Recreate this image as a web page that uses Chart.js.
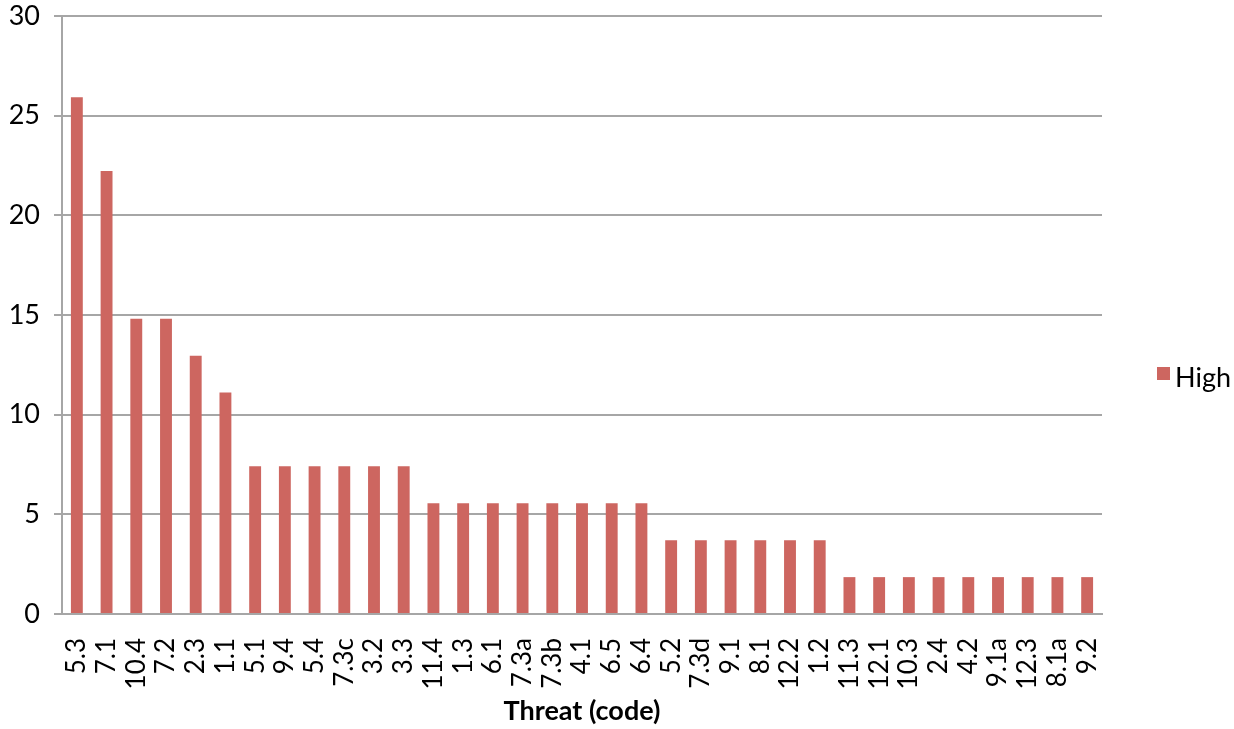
<!DOCTYPE html>
<html>
<head>
<meta charset="utf-8">
<script src="https://cdn.jsdelivr.net/npm/chart.js@4.4.1/dist/chart.umd.min.js"></script>
<style>
  html, body { margin: 0; padding: 0; background: #ffffff; }
  #wrap { width: 1234px; height: 729px; position: relative; }
</style>
</head>
<body>
<div id="wrap"><canvas id="chart" width="1234" height="729"></canvas></div>
<script>
// Threat codes, ranked by share of "High" ratings (%)
const threatCodes = [
  '5.3', '7.1', '10.4', '7.2', '2.3', '1.1', '5.1', '9.4', '5.4', '7.3c',
  '3.2', '3.3', '11.4', '1.3', '6.1', '7.3a', '7.3b', '4.1', '6.5', '6.4',
  '5.2', '7.3d', '9.1', '8.1', '12.2', '1.2', '11.3', '12.1', '10.3', '2.4',
  '4.2', '9.1a', '12.3', '8.1a', '9.2'
];
const highValues = [
  25.93, 22.22, 14.81, 14.81, 12.96, 11.11, 7.41, 7.41, 7.41, 7.41,
  7.41, 7.41, 5.56, 5.56, 5.56, 5.56, 5.56, 5.56, 5.56, 5.56,
  3.70, 3.70, 3.70, 3.70, 3.70, 3.70, 1.85, 1.85, 1.85, 1.85,
  1.85, 1.85, 1.85, 1.85, 1.85
];
const seriesName = 'High';
const axisTitle = 'Threat (code)';
const yTicks = { min: 0, max: 30, step: 5 };

const FONT = 'Lato, "Open Sans", sans-serif';
const GRID = '#a6a6a6';
const BAR = '#cd6660';

// Single-entry legend to the right of the plot, vertically centred on the canvas
const sideLegend = {
  id: 'sideLegend',
  afterDraw(chart) {
    const ctx = chart.ctx;
    const ds = chart.data.datasets[0];
    const x = chart.chartArea.right + 55;
    const yMid = chart.height / 2 + 9;
    ctx.save();
    ctx.fillStyle = ds.backgroundColor;
    ctx.fillRect(x, yMid - 6.5, 13, 13);
    ctx.fillStyle = '#000000';
    ctx.font = '27px ' + FONT;
    ctx.textBaseline = 'middle';
    ctx.textAlign = 'left';
    ctx.fillText(ds.label, x + 18, yMid + 5);
    ctx.restore();
  }
};

new Chart(document.getElementById('chart'), {
  type: 'bar',
  data: {
    labels: threatCodes,
    datasets: [{
      label: seriesName,
      data: highValues,
      backgroundColor: BAR,
      borderWidth: 0,
      barPercentage: 0.4,
      categoryPercentage: 1.0
    }]
  },
  plugins: [sideLegend],
  options: {
    responsive: false,
    animation: false,
    layout: { padding: { left: 0, right: 132, top: 16, bottom: 0 } },
    plugins: {
      tooltip: { enabled: false },
      legend: { display: false }
    },
    scales: {
      x: {
        grid: { display: false, drawTicks: false },
        border: { display: true, color: GRID, width: 2 },
        ticks: {
          minRotation: 90,
          maxRotation: 90,
          autoSkip: false,
          padding: 24,
          color: '#000000',
          font: { family: FONT, size: 26 }
        },
        title: {
          display: true,
          text: axisTitle,
          color: '#000000',
          font: { family: FONT, size: 27, weight: 'bold' },
          padding: { top: 6, bottom: 2 }
        },
        afterFit(scale) {
          scale.height = 115;
          scale.paddingLeft = 0;
          scale.paddingRight = 0;
        }
      },
      y: {
        min: yTicks.min,
        max: yTicks.max,
        ticks: {
          stepSize: yTicks.step,
          padding: 14,
          color: '#000000',
          font: { family: FONT, size: 27 }
        },
        grid: { color: GRID, lineWidth: 2, tickLength: 8, drawTicks: true },
        border: { display: true, color: GRID, width: 2 },
        afterFit(scale) {
          scale.width = 62;
          scale.paddingTop = 0;
          scale.paddingBottom = 0;
        }
      }
    }
  }
});
</script>
</body>
</html>
